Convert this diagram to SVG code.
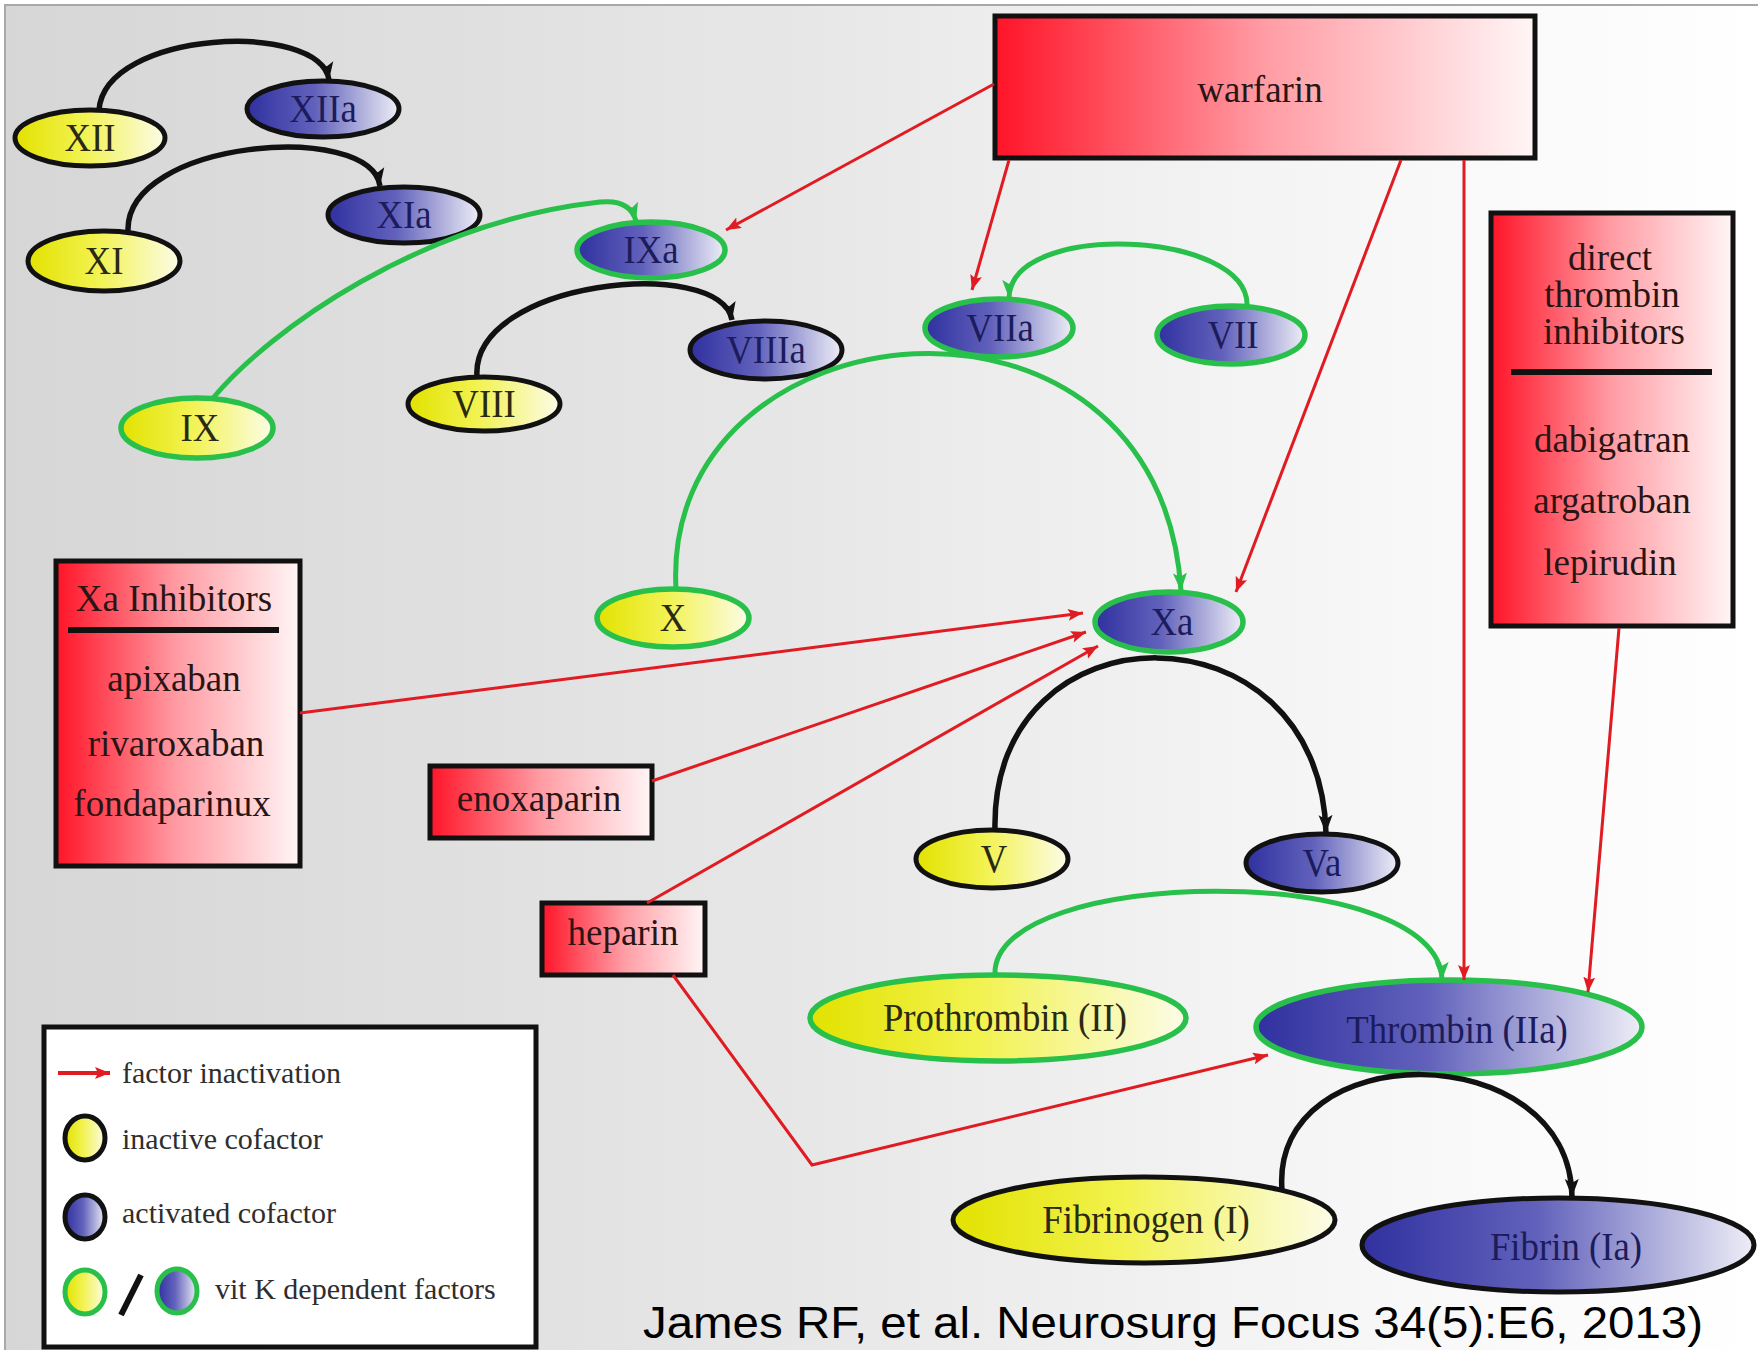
<svg xmlns="http://www.w3.org/2000/svg" width="1758" height="1350" viewBox="0 0 1758 1350">
<defs>
<linearGradient id="bg" x1="0" y1="0" x2="1" y2="0">
<stop offset="0" stop-color="#d6d6d6"/><stop offset="0.45" stop-color="#e7e7e7"/><stop offset="0.8" stop-color="#f8f8f8"/><stop offset="1" stop-color="#ffffff"/>
</linearGradient>
<linearGradient id="yel" x1="0" y1="0" x2="1" y2="0">
<stop offset="0" stop-color="#e2e200"/><stop offset="0.45" stop-color="#f2f250"/><stop offset="1" stop-color="#fcfce8"/>
</linearGradient>
<linearGradient id="blu" x1="0" y1="0" x2="1" y2="0">
<stop offset="0" stop-color="#3030a0"/><stop offset="0.45" stop-color="#6262bc"/><stop offset="1" stop-color="#eeeef7"/>
</linearGradient>
<linearGradient id="red" x1="0" y1="0" x2="1" y2="0">
<stop offset="0" stop-color="#ff1428"/><stop offset="0.5" stop-color="#ff9ca4"/><stop offset="1" stop-color="#fff6f6"/>
</linearGradient>
<marker id="ab" markerUnits="userSpaceOnUse" markerWidth="22" markerHeight="18" refX="18" refY="8" orient="auto"><path d="M0,1 L18,8 L0,15 L4,8 Z" fill="#111"/></marker>
<marker id="ag" markerUnits="userSpaceOnUse" markerWidth="22" markerHeight="18" refX="18" refY="8" orient="auto"><path d="M0,1 L18,8 L0,15 L4,8 Z" fill="#28c04a"/></marker>
<marker id="ar" markerUnits="userSpaceOnUse" markerWidth="18" markerHeight="14" refX="15" refY="6" orient="auto"><path d="M0,0 L15,6 L0,12 L3,6 Z" fill="#e01b22"/></marker>
<style>
.yel{fill:url(#yel)}
.blu{fill:url(#blu)}
.k{stroke:#111;stroke-width:5}
.g{stroke:#28c04a;stroke-width:5.5}
.lbl{font-family:"Liberation Serif","Times New Roman",serif;font-size:40px;text-anchor:middle}
.ly{fill:#2a2a12}
.lb{fill:#1c1c5c}
.box{fill:url(#red);stroke:#111;stroke-width:5}
.bt{font-family:"Liberation Serif","Times New Roman",serif;font-size:37px;text-anchor:middle;fill:#2a1515}
.sep{stroke:#111;stroke-width:6}
.ak{fill:none;stroke:#111;stroke-width:5.5;marker-end:url(#ab)}
.ag{fill:none;stroke:#28c04a;stroke-width:5;marker-end:url(#ag)}
.rl{fill:none;stroke:#e01b22;stroke-width:3;marker-end:url(#ar)}
.leg{font-family:"Liberation Serif","Times New Roman",serif;font-size:30px;fill:#2e2e2e}
.cite{font-family:"Liberation Sans",Arial,sans-serif;font-size:45px;fill:#000}
</style>
</defs>

<rect x="0" y="0" width="1758" height="1350" fill="#ffffff"/>
<rect x="5" y="5" width="1760" height="1350" fill="url(#bg)"/>
<path d="M5,1350 L5,5 L1758,5" fill="none" stroke="#a8a8a8" stroke-width="2"/>

<g id="node-XII"><ellipse cx="90" cy="138" rx="75" ry="28" class="yel k"/><text class="lbl ly" transform="translate(90,138) scale(0.92,1)" y="13">XII</text></g>
<g id="node-XIIa"><ellipse cx="323" cy="109" rx="76" ry="28" class="blu k"/><text class="lbl lb" transform="translate(323,109) scale(0.92,1)" y="13">XIIa</text></g>
<g id="node-XI"><ellipse cx="104" cy="261" rx="76" ry="30" class="yel k"/><text class="lbl ly" transform="translate(104,261) scale(0.92,1)" y="13">XI</text></g>
<g id="node-XIa"><ellipse cx="404" cy="215" rx="76" ry="28" class="blu k"/><text class="lbl lb" transform="translate(404,215) scale(0.92,1)" y="13">XIa</text></g>
<g id="node-IXa"><ellipse cx="651" cy="250" rx="74" ry="28" class="blu g"/><text class="lbl lb" transform="translate(651,250) scale(0.92,1)" y="13">IXa</text></g>
<g id="node-VIIIa"><ellipse cx="766" cy="350" rx="76" ry="29" class="blu k"/><text class="lbl lb" transform="translate(766,350) scale(0.92,1)" y="13">VIIIa</text></g>
<g id="node-VIII"><ellipse cx="484" cy="404" rx="76" ry="27" class="yel k"/><text class="lbl ly" transform="translate(484,404) scale(0.92,1)" y="13">VIII</text></g>
<g id="node-IX"><ellipse cx="197" cy="428" rx="76" ry="30" class="yel g"/><text class="lbl ly" transform="translate(200,428) scale(0.92,1)" y="13">IX</text></g>
<g id="node-VIIa"><ellipse cx="999" cy="328" rx="74" ry="29" class="blu g"/><text class="lbl lb" transform="translate(1000,328) scale(0.92,1)" y="13">VIIa</text></g>
<g id="node-VII"><ellipse cx="1231" cy="335" rx="74" ry="29" class="blu g"/><text class="lbl lb" transform="translate(1233,335) scale(0.92,1)" y="13">VII</text></g>
<g id="node-X"><ellipse cx="673" cy="618" rx="76" ry="29" class="yel g"/><text class="lbl ly" transform="translate(673,618) scale(0.92,1)" y="13">X</text></g>
<g id="node-Xa"><ellipse cx="1169" cy="622" rx="74" ry="30" class="blu g"/><text class="lbl lb" transform="translate(1172,622) scale(0.92,1)" y="13">Xa</text></g>
<g id="node-V"><ellipse cx="992" cy="859" rx="76" ry="29" class="yel k"/><text class="lbl ly" transform="translate(994,859) scale(0.92,1)" y="13">V</text></g>
<g id="node-Va"><ellipse cx="1322" cy="863" rx="76" ry="29" class="blu k"/><text class="lbl lb" transform="translate(1322,863) scale(0.92,1)" y="13">Va</text></g>
<g id="node-II"><ellipse cx="998" cy="1018" rx="188" ry="43" class="yel g"/><text class="lbl ly" transform="translate(1005,1018) scale(0.92,1)" y="13">Prothrombin (II)</text></g>
<g id="node-IIa"><ellipse cx="1449" cy="1027" rx="193" ry="47" class="blu g"/><text class="lbl lb" transform="translate(1457,1030) scale(0.92,1)" y="13">Thrombin (IIa)</text></g>
<g id="node-I"><ellipse cx="1144" cy="1220" rx="191" ry="43" class="yel k"/><text class="lbl ly" transform="translate(1146,1220) scale(0.92,1)" y="13">Fibrinogen (I)</text></g>
<g id="node-Ia"><ellipse cx="1558" cy="1245" rx="196" ry="47" class="blu k"/><text class="lbl lb" transform="translate(1566,1247) scale(0.92,1)" y="13">Fibrin (Ia)</text></g>

<g id="box-warfarin"><rect x="995" y="16" width="540" height="142" class="box"/><text class="bt" x="1260" y="102">warfarin</text></g>
<g id="box-dti"><rect x="1491" y="213" width="242" height="413" class="box"/>
<text class="bt" x="1610" y="270">direct</text><text class="bt" x="1612" y="307">thrombin</text><text class="bt" x="1614" y="344">inhibitors</text>
<line x1="1511" y1="372" x2="1712" y2="372" class="sep"/>
<text class="bt" x="1612" y="452">dabigatran</text><text class="bt" x="1612" y="513">argatroban</text><text class="bt" x="1610" y="575">lepirudin</text></g>
<g id="box-xa"><rect x="56" y="561" width="244" height="305" class="box"/>
<text class="bt" x="174" y="611">Xa Inhibitors</text>
<line x1="68" y1="630" x2="279" y2="630" class="sep"/>
<text class="bt" x="174" y="691">apixaban</text><text class="bt" x="176" y="756">rivaroxaban</text><text class="bt" x="172" y="816">fondaparinux</text></g>
<g id="box-enoxaparin"><rect x="430" y="766" width="222" height="72" class="box"/><text class="bt" x="539" y="811">enoxaparin</text></g>
<g id="box-heparin"><rect x="542" y="903" width="163" height="72" class="box"/><text class="bt" x="623" y="945">heparin</text></g>

<g id="connectors">
<path class="ak" d="M99,110 C105,30 320,20 329,80"/>
<path class="ak" d="M128,231 C125,140 370,120 380,186"/>
<path class="ag" d="M213,398 C270,330 420,222 600,202 Q630,199 636,221"/>
<path class="ak" d="M477,377 C470,280 720,255 732,320"/>
<path class="ag" d="M1247,306 C1250,230 1010,220 1009,298"/>
<path class="ag" d="M676,589 C660,300 1160,250 1181,591"/>
<path class="ak" d="M995,830 C990,600 1320,600 1326,833"/>
<path class="ag" d="M995,975 C990,865 1440,860 1442,980"/>
<path class="ak" d="M1282,1190 C1270,1035 1570,1035 1572,1197"/>
<path class="rl" d="M994,84 L726,230"/>
<path class="rl" d="M1009,160 L972,290"/>
<path class="rl" d="M1401,160 L1236,592"/>
<path class="rl" d="M1464,160 L1464,980"/>
<path class="rl" d="M1619,628 L1588,992"/>
<path class="rl" d="M300,713 L1083,613"/>
<path class="rl" d="M652,781 L1086,632"/>
<path class="rl" d="M647,903 L1098,646"/>
<path class="rl" d="M673,975 L812,1165 L1268,1055"/>
</g>

<g id="legend">
<rect x="44" y="1027" width="492" height="320" fill="#ffffff" stroke="#111" stroke-width="5"/>
<path d="M58,1073 L110,1073" fill="none" stroke="#e01b22" stroke-width="4" marker-end="url(#ar)"/>
<text class="leg" x="122" y="1083">factor inactivation</text>
<ellipse cx="85" cy="1138" rx="20" ry="22" class="yel" stroke="#111" stroke-width="5"/>
<text class="leg" x="122" y="1149">inactive cofactor</text>
<ellipse cx="85" cy="1217" rx="20" ry="22" class="blu" stroke="#111" stroke-width="5"/>
<text class="leg" x="122" y="1223">activated cofactor</text>
<ellipse cx="85" cy="1292" rx="20" ry="22" class="yel" stroke="#28c04a" stroke-width="5"/>
<line x1="141" y1="1275" x2="121" y2="1315" stroke="#111" stroke-width="6"/>
<ellipse cx="177" cy="1291" rx="20" ry="22" class="blu" stroke="#28c04a" stroke-width="5"/>
<text class="leg" x="215" y="1299">vit K dependent factors</text>
</g>

<text class="cite" x="643" y="1338" textLength="1060" lengthAdjust="spacingAndGlyphs">James RF, et al. Neurosurg Focus 34(5):E6, 2013)</text>
</svg>
